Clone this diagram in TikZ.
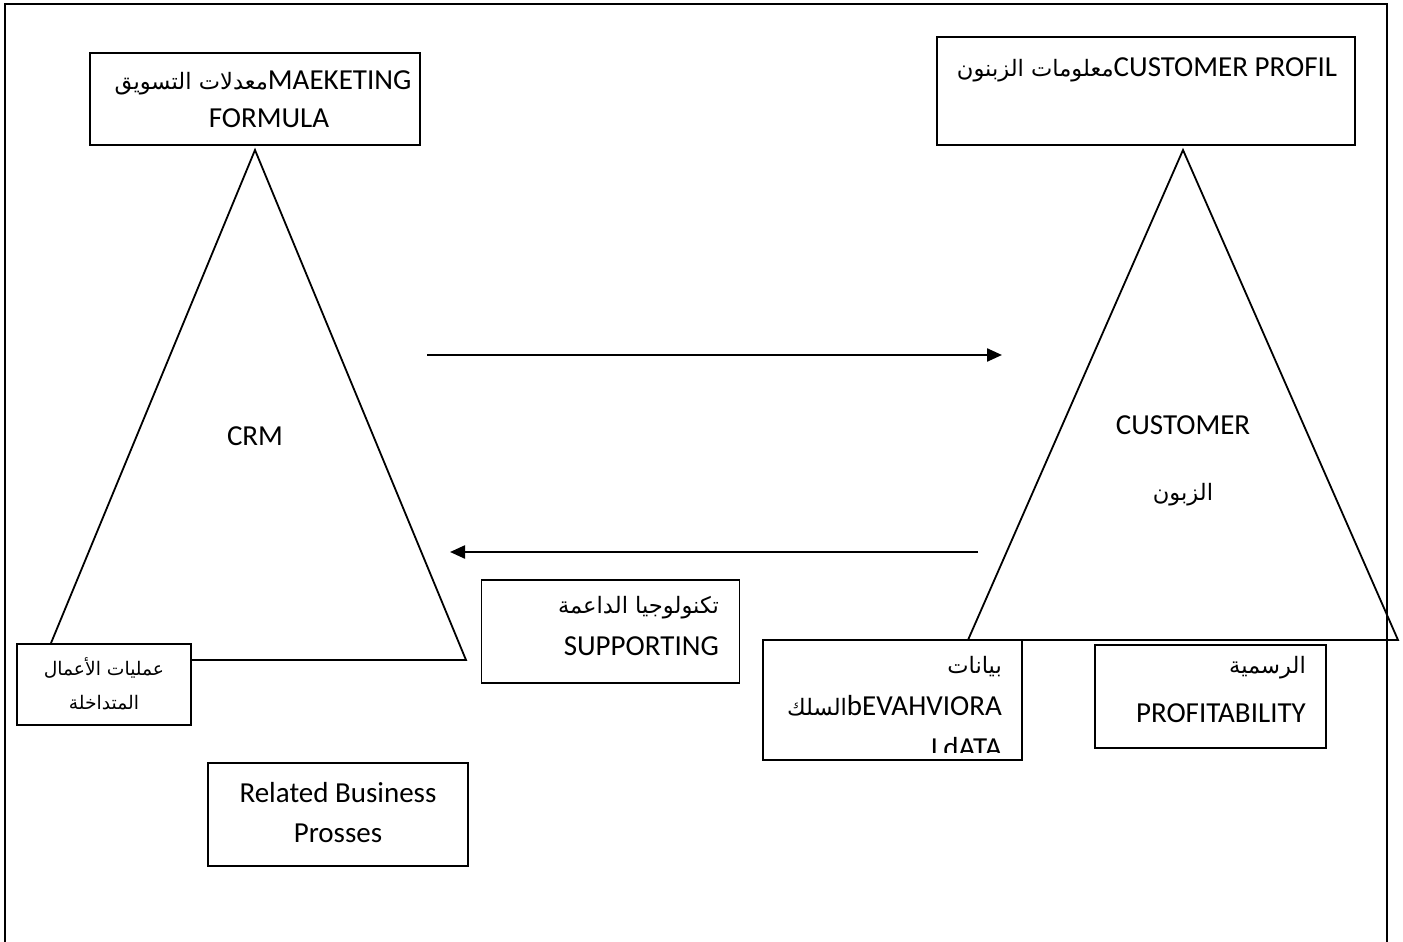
\documentclass[tikz,border=0pt]{standalone}
\usepackage{fontspec}
\usetikzlibrary{arrows.meta}
\setmainfont{Carlito}
\newfontfamily\arabicfont[Script=Arabic,Scale=0.78]{DejaVu Sans}
\TeXXeTstate=1
\newcommand{\ar}[1]{{\arabicfont\beginR #1\endR}}
\tikzset{
  frame/.style={line width=1.9pt},
  shape line/.style={line width=1.8pt, line join=miter},
  box/.style={draw, fill=white, line width=1.9pt, inner sep=0pt},
  txt/.style={inner sep=0pt, font=\fontsize{29}{34}\selectfont},
  small/.style={inner sep=0pt, font=\fontsize{24}{28}\selectfont},
  flow/.style={line width=2.3pt, -{Triangle[length=15pt,width=13pt]}}
}
\begin{document}
\begin{tikzpicture}[x=1pt,y=-1pt]
\useasboundingbox (0,0) rectangle (1403,942);

% open outer frame
\coordinate (f1) at (5,942);
\coordinate (f2) at (5,4);
\coordinate (f3) at (1387,4);
\coordinate (f4) at (1387,942);
\draw[frame] (f1) -- (f2) -- (f3) -- (f4);

% the two triangles
\coordinate (la) at (255,150);
\coordinate (lb) at (44,660);
\coordinate (lc) at (466,660);
\draw[shape line] (la) -- (lb) -- (lc) -- cycle;
\coordinate (ra) at (1183,150);
\coordinate (rb) at (968,640);
\coordinate (rc) at (1398,640);
\draw[shape line] (ra) -- (rb) -- (rc) -- cycle;

% boxes
\node[box, minimum width=330pt, minimum height=92pt] (mkt) at (255,99) {};
\node[box, minimum width=418pt, minimum height=108pt] (prof) at (1146,91) {};
\node[box, minimum width=174pt, minimum height=81pt] (rel) at (104,684.5) {};
\node[box, minimum width=258pt, minimum height=103pt] (sup) at (610.5,631.5) {};
\node[box, minimum width=259pt, minimum height=120pt] (beh) at (892.5,700) {};
\node[box, minimum width=231pt, minimum height=103pt] (pft) at (1210.5,696.5) {};
\node[box, minimum width=260pt, minimum height=103pt] (rbp) at (338,814.5) {};

% labels inside the boxes
\node[txt, anchor=base] (mkt1) at (263,89) {\ar{معدلات التسويق}MAEKETING};
\node[txt, anchor=base] (mkt2) at (269,127) {FORMULA};
\node[txt, anchor=base] (prof1) at (1147,77) {\ar{معلومات الزبنون}CUSTOMER PROFIL};
\node[small, anchor=base] (rel1) at (104,675) {\ar{عمليات الأعمال}};
\node[small, anchor=base] (rel2) at (104,709) {\ar{المتداخلة}};
\node[txt, anchor=base east] (sup1) at (719,613) {\ar{تكنولوجيا الداعمة}};
\node[txt, anchor=base east] (sup2) at (719,655) {SUPPORTING};
\begin{scope}
  % the text runs past the bottom of its box and is cut there
  \clip ([xshift=1pt,yshift=8pt]beh.south west) rectangle ([xshift=-1pt,yshift=-1pt]beh.north east);
  \node[txt, anchor=base east] (beh1) at (1002,673) {\ar{بيانات}};
  \node[txt, anchor=base east] (beh2) at (1002,715) {\ar{السلك}bEVAHVIORA};
  \node[txt, anchor=base east] (beh3) at (1002,757) {LdATA};
\end{scope}
\node[txt, anchor=base east] (pft1) at (1306,673) {\ar{الرسمية}};
\node[txt, anchor=base east] (pft2) at (1306,722) {PROFITABILITY};
\node[txt, anchor=base] (rbp1) at (338,802) {Related Business};
\node[txt, anchor=base] (rbp2) at (338,842) {Prosses};

% triangle labels
\node[txt, anchor=base] (crm) at (255,445) {CRM};
\node[txt, anchor=base] (cus1) at (1183,434) {CUSTOMER};
\node[txt, anchor=base] (cus2) at (1183,500) {\ar{الزبون}};

% exchange arrows
\coordinate (a1s) at (427,355);
\coordinate (a1e) at (1002,355);
\draw[flow] (a1s) -- (a1e);
\coordinate (a2s) at (978,552);
\coordinate (a2e) at (450,552);
\draw[flow] (a2s) -- (a2e);
\end{tikzpicture}
\end{document}
